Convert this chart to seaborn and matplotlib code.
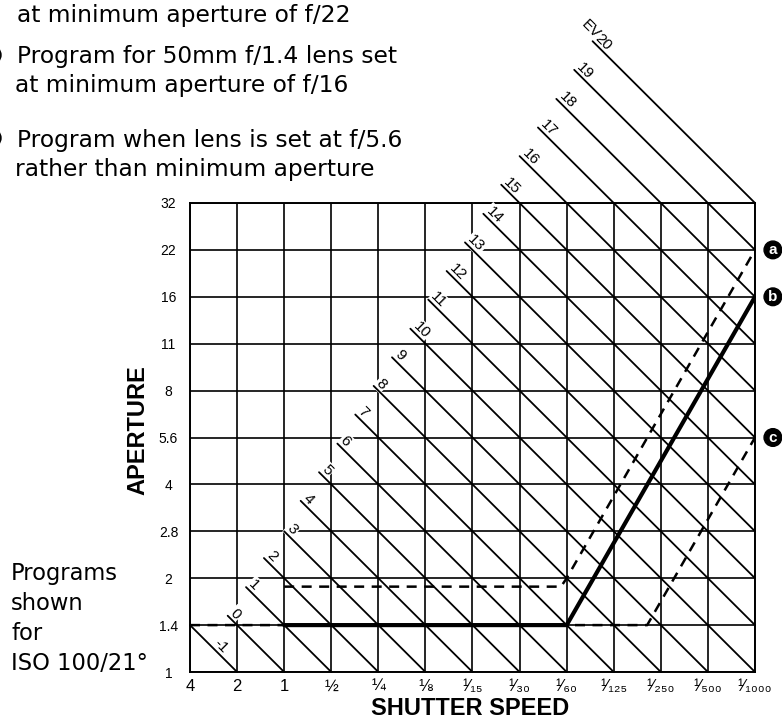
import matplotlib
matplotlib.use("Agg")
import matplotlib.pyplot as plt
import matplotlib.patches as mpatches
import pandas as pd
import seaborn as sns

# shutter speeds as Tv stops (4 s = -2 ... 1/1000 = 10)
shutter_tv = [-2, -1, 0, 1, 2, 3, 4, 5, 6, 7, 8, 9, 10]
shutter_labels = ["4", "2", "1", "½", "¼", "⅛", "¹⁄₁₅", "¹⁄₃₀", "¹⁄₆₀",
                  "¹⁄₁₂₅", "¹⁄₂₅₀", "¹⁄₅₀₀", "¹⁄₁₀₀₀"]
# apertures as Av stops (f/1 = 0 ... f/32 = 10)
aperture_av = [0, 1, 2, 3, 4, 5, 6, 7, 8, 9, 10]
aperture_labels = ["1", "1.4", "2", "2.8", "4", "5.6", "8", "11", "16", "22", "32"]

# EV lines (Tv + Av = EV), where each one begins and where its label sits
ev_values = list(range(-1, 21))
ev_line_from_tv = [-2.0, -1.2, -0.81, -0.43, 0.0, 0.35, 0.74, 1.13, 1.51, 1.9, 2.29,
                   2.68, 3.06, 3.45, 3.84, 4.23, 4.61, 5.0, 5.39, 5.78, 6.16, 6.55]
ev_label_tv = [-1.55, -1.2, -0.81, -0.43, 0.0, 0.35, 0.74, 1.13, 1.51, 1.9, 2.29,
               2.68, 3.06, 3.45, 3.84, 4.23, 4.61, 5.0, 5.39, 5.78, 6.16, 6.55]

# programs (Tv, Av)
prog_a_tv = [0, 5.88, 6, 10]
prog_a_av = [1.82, 1.82, 2, 9]
prog_b_tv = [0, 6, 10]
prog_b_av = [1, 1, 8]
prog_c_tv = [-2, 7.71, 10]
prog_c_av = [1, 1, 5]

sns.set_theme(style="white")
plt.rcParams["font.family"] = ["Liberation Sans", "DejaVu Sans"]
plt.rcParams["text.color"] = "black"
plt.rcParams["axes.labelcolor"] = "black"

W, H = 782, 719
fig = plt.figure(figsize=(W / 100, H / 100), dpi=100)
ax = fig.add_axes([190 / W, 47 / H, 565 / W, 469 / H])
ax.set_xlim(-2, 10)
ax.set_ylim(0, 10)

ax.set_xticks(shutter_tv)
ax.set_xticklabels(shutter_labels)
ax.set_yticks(aperture_av)
ax.set_yticklabels(aperture_labels)
ax.tick_params(axis="both", length=0, colors="black")
ax.tick_params(axis="y", pad=15.5, labelsize=10)
ax.tick_params(axis="x", pad=5, labelsize=12)
for t in ax.get_yticklabels():
    t.set_ha("center")
ax.grid(True, color="black", lw=1.2)
ax.set_axisbelow(True)
for s in ax.spines.values():
    s.set_color("black")
    s.set_linewidth(1.4)

# EV diagonals
rows = []
for ev, t0 in zip(ev_values, ev_line_from_tv):
    t1 = min(10, ev)
    rows.append({"ev": ev, "tv": t0, "av": ev - t0})
    rows.append({"ev": ev, "tv": t1, "av": ev - t1})
ev_df = pd.DataFrame(rows)
sns.lineplot(data=ev_df, x="tv", y="av", units="ev", estimator=None, sort=False,
             color="black", lw=1.3, clip_on=False, zorder=5, ax=ax)

box = dict(fc="white", ec="none", pad=1.0)
for ev, t0 in zip(ev_values, ev_label_tv):
    ax.text(t0, ev - t0, str(ev), rotation=-45, rotation_mode="anchor",
            ha="left", va="bottom", fontsize=11, color="black", zorder=4,
            clip_on=False, bbox=box)
ax.text(ev_label_tv[-1], ev_values[-1] - ev_label_tv[-1], "EV", rotation=-45,
        rotation_mode="anchor", ha="right", va="bottom", fontsize=11,
        color="black", zorder=4, clip_on=False, bbox=box)

# programs
sns.lineplot(x=prog_c_tv, y=prog_c_av, sort=False, estimator=None, color="black",
             lw=1.8, ls=(0, (4, 3)), zorder=2, ax=ax)
sns.lineplot(x=prog_a_tv, y=prog_a_av, sort=False, estimator=None, color="black",
             lw=1.8, ls=(0, (4, 3)), zorder=2, ax=ax)
sns.lineplot(x=prog_b_tv, y=prog_b_av, sort=False, estimator=None, color="black",
             lw=3, zorder=3, ax=ax)

for letter, av in zip(["a", "b", "c"], [9, 8, 5]):
    ax.text(10.38, av, letter, ha="center", va="center", color="white",
            fontsize=11, fontweight="bold", clip_on=False,
            bbox=dict(boxstyle="circle,pad=0.12", fc="black", ec="black"))

ax.set_ylabel("APERTURE", fontsize=17, fontweight="bold", va="center")
ax.yaxis.set_label_coords(-0.092, 0.515)
ax.set_xlabel("SHUTTER SPEED", fontsize=17, fontweight="bold", va="center")
ax.xaxis.set_label_coords(0.496, -0.077)

# notes
note_font = ["DejaVu Sans"]
top_lines = [("at minimum aperture of f/22", 17, 22),
             ("Program for 50mm f/1.4 lens set", 17, 63),
             ("at minimum aperture of f/16", 15, 92),
             ("Program when lens is set at f/5.6", 17, 147),
             ("rather than minimum aperture", 15, 176)]
for s, x, y in top_lines:
    fig.text(x / W, 1 - y / H, s, fontsize=16.8, va="baseline", ha="left",
             family=note_font, color="black")
for y in [55, 138]:
    fig.add_artist(mpatches.Ellipse((-8 / W, 1 - y / H), 18 / W, 18 / H,
                                    transform=fig.transFigure, color="black"))

left_lines = ["Programs", "shown", "for", "ISO 100/21°"]
for k, s in enumerate(left_lines):
    fig.text(11 / W, 1 - (580 + 30 * k) / H, s, fontsize=16.3, va="baseline",
             ha="left", family=note_font, color="black")

fig.savefig("out.png", dpi=100)
